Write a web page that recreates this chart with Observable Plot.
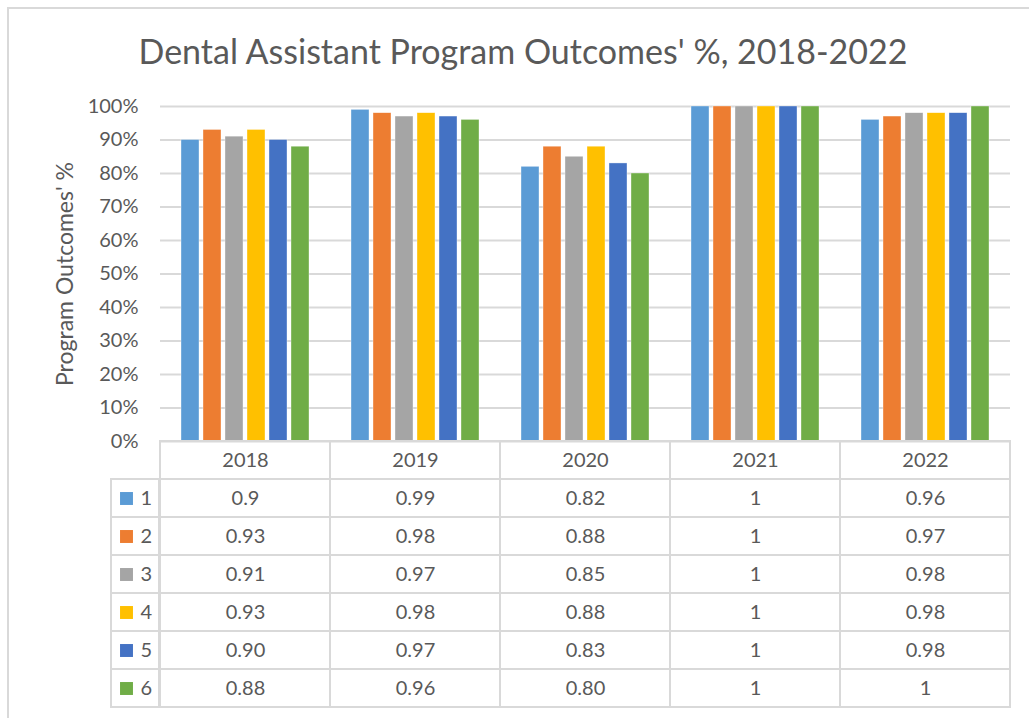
<!DOCTYPE html>
<html>
<head>
<meta charset="utf-8">
<script src="https://cdn.jsdelivr.net/npm/d3@7"></script>
<script src="https://cdn.jsdelivr.net/npm/@observablehq/plot@0.6"></script>
<style>
  html, body { margin: 0; padding: 0; background: #fff; }
  body { width: 1029px; height: 718px; overflow: hidden; position: relative; font-family: Lato, "Noto Sans", sans-serif; }
  #frame { position: absolute; left: 7px; top: 7px; width: 1040px; height: 720px; border-left: 2px solid #d9d9d9; border-top: 2px solid #d9d9d9; box-sizing: border-box; }
  #title { position: absolute; left: 0; top: 30px; width: 1046px; text-align: center; font-size: 34px; color: #595959; white-space: nowrap; }
  .abs { position: absolute; }
</style>
</head>
<body>
<div id="frame"></div>
<div id="title">Dental Assistant Program Outcomes' %, 2018-2022</div>
<div id="chart" class="abs" style="left:0;top:0"></div>
<div id="legendcol" class="abs" style="left:110px;top:440px"></div>
<div id="table" class="abs" style="left:0;top:440px"></div>
<script>
const years = ["2018", "2019", "2020", "2021", "2022"];
const seriesNames = ["1", "2", "3", "4", "5", "6"];
const colors = ["#5B9BD5", "#ED7D31", "#A5A5A5", "#FFC000", "#4472C4", "#70AD47"];
const s1 = [0.90, 0.99, 0.82, 1, 0.96];
const s2 = [0.93, 0.98, 0.88, 1, 0.97];
const s3 = [0.91, 0.97, 0.85, 1, 0.98];
const s4 = [0.93, 0.98, 0.88, 1, 0.98];
const s5 = [0.90, 0.97, 0.83, 1, 0.98];
const s6 = [0.88, 0.96, 0.80, 1, 1.00];
const l1 = ["0.9", "0.99", "0.82", "1", "0.96"];
const l2 = ["0.93", "0.98", "0.88", "1", "0.97"];
const l3 = ["0.91", "0.97", "0.85", "1", "0.98"];
const l4 = ["0.93", "0.98", "0.88", "1", "0.98"];
const l5 = ["0.90", "0.97", "0.83", "1", "0.98"];
const l6 = ["0.88", "0.96", "0.80", "1", "1"];
const yTicks = [0, 0.1, 0.2, 0.3, 0.4, 0.5, 0.6, 0.7, 0.8, 0.9, 1.0];
const yLabel = "Program Outcomes' %";

const values = [s1, s2, s3, s4, s5, s6];
const labels = [l1, l2, l3, l4, l5, l6];
const data = [];
seriesNames.forEach((s, i) => years.forEach((y, j) => data.push({series: s, year: y, value: values[i][j], label: labels[i][j]})));

const textColor = "#595959";
const gridColor = "#d9d9d9";
const font = "Lato, 'Noto Sans', sans-serif";

const chart = Plot.plot({
  width: 1029,
  height: 450,
  marginTop: 106,
  marginBottom: 9,
  marginLeft: 158,
  marginRight: 17,
  style: {fontFamily: font, color: textColor, background: "transparent", overflow: "visible"},
  fx: {domain: years, padding: 0, axis: null},
  x: {domain: seriesNames, paddingInner: 0.196, paddingOuter: 0.91, axis: null},
  y: {domain: [0, 1]},
  color: {domain: seriesNames, range: colors},
  marks: [
    Plot.gridY(yTicks, {stroke: gridColor, strokeOpacity: 1, strokeWidth: 2}),
    Plot.barY(data, {fx: "year", x: "series", y: "value", fill: "series", stroke: "white", strokeWidth: 0.6, strokeOpacity: 0.6}),
    Plot.axisY(yTicks, {tickFormat: d3.format(".0%"), tickSize: 0, tickPadding: 22, fontSize: 20, fill: textColor,
      label: yLabel, labelAnchor: "center", labelOffset: 104, labelArrow: "none"})
  ]
});
chart.querySelectorAll("text").forEach(e => {
  if (e.textContent.trim() === yLabel) {
    e.setAttribute("font-size", 23);
    e.style.fontSize = "23px";
    if (e.parentNode && e.parentNode.tagName === "g") e.parentNode.setAttribute("font-size", 23);
  }
});
document.getElementById("chart").appendChild(chart);

const rowDomain = ["head", ...seriesNames];
const header = years.map(y => ({year: y, row: "head"}));

const table = Plot.plot({
  width: 1029,
  height: 268,
  marginTop: 1,
  marginBottom: 1,
  marginLeft: 158,
  marginRight: 17,
  style: {fontFamily: font, color: textColor, background: "transparent", overflow: "visible"},
  x: {domain: years, padding: 0, axis: null},
  y: {domain: rowDomain, padding: 0, axis: null},
  marks: [
    Plot.cell(header, {x: "year", y: "row", fill: "none", stroke: gridColor, strokeWidth: 2, inset: 0}),
    Plot.cell(data, {x: "year", y: "series", fill: "none", stroke: gridColor, strokeWidth: 2, inset: 0}),
    Plot.text(header, {x: "year", y: "row", text: "year", fontSize: 20, fill: textColor}),
    Plot.text(data, {x: "year", y: "series", text: "label", fontSize: 20, fill: textColor})
  ]
});
document.getElementById("table").appendChild(table);

const legendRows = seriesNames.map(s => ({series: s}));
const legendCol = Plot.plot({
  width: 50,
  height: 268,
  marginTop: 1,
  marginBottom: 1,
  marginLeft: 1,
  marginRight: 1,
  style: {fontFamily: font, color: textColor, background: "transparent", overflow: "visible"},
  y: {domain: rowDomain, padding: 0, axis: null},
  color: {domain: seriesNames, range: colors},
  marks: [
    Plot.cell(legendRows, {y: "series", fill: "none", stroke: gridColor, strokeWidth: 2, inset: 0}),
    Plot.dot(legendRows, {y: "series", frameAnchor: "left", dx: 15, symbol: "square", r: 7.3, fill: "series", stroke: "none"}),
    Plot.text(legendRows, {y: "series", frameAnchor: "left", dx: 29, text: "series", textAnchor: "start", fontSize: 20, fill: textColor})
  ]
});
document.getElementById("legendcol").appendChild(legendCol);
</script>
</body>
</html>
